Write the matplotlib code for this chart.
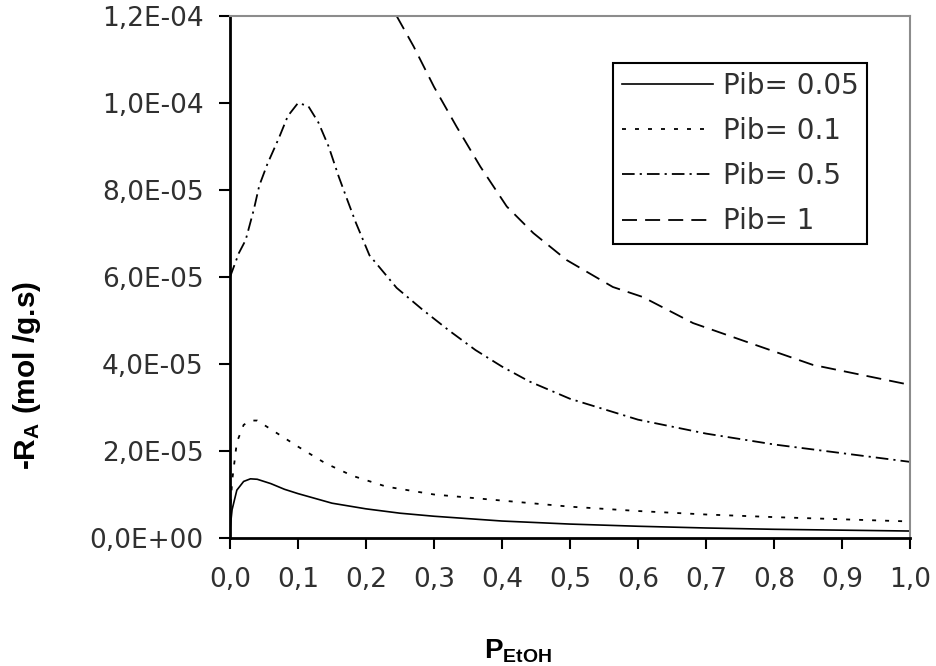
import matplotlib

matplotlib.use("Agg")
from matplotlib import pyplot as plt

# data (reaction rate, mol/g.s)
x_005 = [0, 0.003, 0.01, 0.02, 0.03, 0.04, 0.06, 0.08, 0.1, 0.15, 0.2, 0.25, 0.3, 0.4, 0.5, 0.6, 0.7, 0.8, 0.9, 1.0]
y_005 = [0.2e-5, 0.65e-5, 1.1e-5, 1.3e-5, 1.36e-5, 1.35e-5, 1.25e-5, 1.12e-5, 1.02e-5, 0.8e-5, 0.67e-5,
         0.57e-5, 0.5e-5, 0.39e-5, 0.32e-5, 0.27e-5, 0.23e-5, 0.2e-5, 0.18e-5, 0.16e-5]

x_01 = [0, 0.003, 0.01, 0.02, 0.03, 0.04, 0.06, 0.08, 0.1, 0.14, 0.18, 0.23, 0.3, 0.4, 0.5, 0.6, 0.7, 0.8, 0.9, 1.0]
y_01 = [0.5e-5, 1.3e-5, 2.2e-5, 2.6e-5, 2.7e-5, 2.7e-5, 2.5e-5, 2.3e-5, 2.1e-5, 1.72e-5, 1.43e-5,
        1.18e-5, 1.0e-5, 0.86e-5, 0.72e-5, 0.62e-5, 0.54e-5, 0.48e-5, 0.43e-5, 0.38e-5]

x_05 = [0, 0.013, 0.023, 0.035, 0.043, 0.055, 0.072, 0.085, 0.1, 0.115, 0.13, 0.145, 0.16, 0.173,
        0.185, 0.205, 0.245, 0.283, 0.322, 0.361, 0.4, 0.44, 0.5, 0.6, 0.7, 0.8, 0.9, 1.0]
y_05 = [6.0e-5, 6.55e-5, 6.85e-5, 7.55e-5, 8.1e-5, 8.6e-5, 9.2e-5, 9.7e-5, 10.0e-5, 9.93e-5, 9.55e-5,
        9.0e-5, 8.3e-5, 7.75e-5, 7.25e-5, 6.5e-5, 5.75e-5, 5.25e-5, 4.77e-5, 4.32e-5, 3.94e-5, 3.6e-5,
        3.2e-5, 2.72e-5, 2.4e-5, 2.15e-5, 1.95e-5, 1.75e-5]

x_1 = [0.245, 0.27, 0.30, 0.333, 0.368, 0.407, 0.446, 0.495, 0.563, 0.607, 0.681, 0.765, 0.857, 1.0]
y_1 = [12.0e-5, 11.3e-5, 10.37e-5, 9.46e-5, 8.54e-5, 7.62e-5, 7.01e-5, 6.39e-5, 5.77e-5, 5.54e-5,
       4.94e-5, 4.48e-5, 3.98e-5, 3.52e-5]

labels = ["Pib= 0.05", "Pib= 0.1", "Pib= 0.5", "Pib= 1"]

x_ticks = [0.0, 0.1, 0.2, 0.3, 0.4, 0.5, 0.6, 0.7, 0.8, 0.9, 1.0]
x_ticklabels = ["0,0", "0,1", "0,2", "0,3", "0,4", "0,5", "0,6", "0,7", "0,8", "0,9", "1,0"]
y_ticks = [0, 2e-5, 4e-5, 6e-5, 8e-5, 1e-4, 1.2e-4]
y_ticklabels = ["0,0E+00", "2,0E-05", "4,0E-05", "6,0E-05", "8,0E-05", "1,0E-04", "1,2E-04"]

plt.rcParams["mathtext.default"] = "regular"

fig = plt.figure(figsize=(9.37, 6.66), dpi=100)
ax = fig.add_axes([0.2455, 0.1922, 0.7257, 0.7838])

ax.plot(x_005, y_005, color="black", lw=1.2, ls="-", label=labels[0])
ax.plot(x_01, y_01, color="black", lw=1.3, ls=(0, (2.2, 5)), label=labels[1])
ax.plot(x_05, y_05, color="black", lw=1.3, ls=(0, (7, 2.8, 1.2, 2.8)), label=labels[2])
ax.plot(x_1, y_1, color="black", lw=1.3, ls=(0, (8.3, 4.5)), label=labels[3])

ax.set_xlim(0, 1)
ax.set_ylim(0, 1.2e-4)
ax.set_xticks(x_ticks)
ax.set_xticklabels(x_ticklabels)
ax.set_yticks(y_ticks)
ax.set_yticklabels(y_ticklabels)

# tick labels: wide grey sans
for lab in ax.get_xticklabels() + ax.get_yticklabels():
    lab.set_fontfamily("DejaVu Sans")
    lab.set_fontsize(19)
    lab.set_color("#303030")
ax.tick_params(axis="both", direction="out", length=8, width=1.5, color="black")
ax.tick_params(axis="y", pad=11)
ax.tick_params(axis="x", pad=13)

for side in ["left", "bottom"]:
    ax.spines[side].set_color("black")
    ax.spines[side].set_linewidth(2)
for side in ["top", "right"]:
    ax.spines[side].set_color("#8c8c8c")
    ax.spines[side].set_linewidth(1.5)

leg = ax.legend(loc="upper right", bbox_to_anchor=(0.937, 0.9105), borderaxespad=0,
                prop={"family": "DejaVu Sans", "size": 20}, handlelength=3.25,
                handletextpad=0.36, labelspacing=0.62, borderpad=0.32,
                fancybox=False, framealpha=1, edgecolor="black")
leg.get_frame().set_linewidth(1.5)
for t in leg.get_texts():
    t.set_color("#303030")

fig.text(0.029, 1 - 375 / 666, "-R$_A$ (mol /g.s)", rotation=90, ha="center", va="center",
         fontsize=21.5, fontweight="bold", family="Liberation Sans")
fig.text(0.553, 1 - 651 / 666, "P$_{EtOH}$", ha="center", va="center",
         fontsize=20, fontweight="bold", family="Liberation Sans")

fig.savefig("out.png", dpi=100)
